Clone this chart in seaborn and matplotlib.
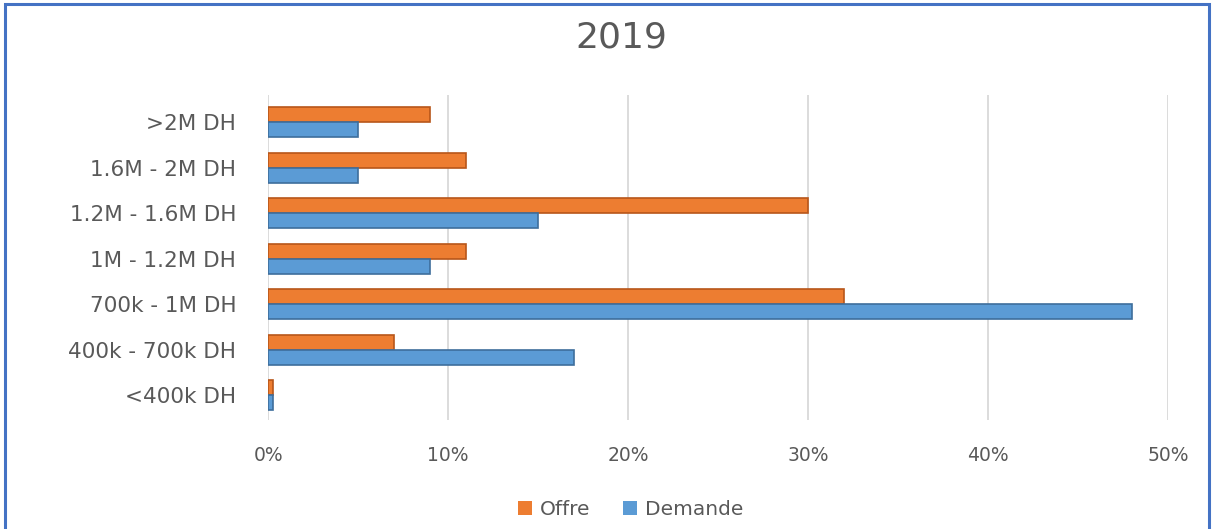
import matplotlib
matplotlib.use("Agg")
import matplotlib.pyplot as plt
import matplotlib.patches as mpatches
import seaborn as sns
import pandas as pd

# Price brackets (top to bottom) and the share of listings / requests in each
categories = [">2M DH", "1.6M - 2M DH", "1.2M - 1.6M DH", "1M - 1.2M DH",
              "700k - 1M DH", "400k - 700k DH", "<400k DH"]
offre = [9, 11, 30, 11, 32, 7, 0.3]
demande = [5, 5, 15, 9, 48, 17, 0.3]
series = ["Offre", "Demande"]
x_ticks = [0, 10, 20, 30, 40, 50]
x_tick_labels = ["0%", "10%", "20%", "30%", "40%", "50%"]

colors = {"Offre": "#ED7D31", "Demande": "#5B9BD5"}
edge_colors = {"Offre": "#B8561A", "Demande": "#3E6E9C"}
text_grey = "#595959"

df = pd.DataFrame({
    "Tranche": categories * 2,
    "Part": offre + demande,
    "Série": [series[0]] * len(categories) + [series[1]] * len(categories),
})

sns.set_theme(style="white")
plt.rcParams["font.family"] = ["DejaVu Sans"]

fig = plt.figure(figsize=(12.13, 5.29), dpi=100)
ax = fig.add_axes([0.221, 0.206, 0.742, 0.614])

sns.barplot(data=df, y="Tranche", x="Part", hue="Série", order=categories,
            hue_order=series, palette=colors, orient="h", width=0.66,
            ax=ax, legend=False, saturation=1)

# darker outline gives the bars their bevelled look
for container, name in zip(ax.containers, series):
    for bar in container:
        bar.set_edgecolor(edge_colors[name])
        bar.set_linewidth(1.2)

ax.set_xlim(0, 50)
ax.set_ylim(6.55, -0.6)
ax.set_xticks(x_ticks)
ax.set_xticklabels(x_tick_labels)
ax.xaxis.grid(True, color="#DCDCDC", linewidth=1.4)
ax.set_axisbelow(True)
for s in ax.spines.values():
    s.set_visible(False)
ax.set_xlabel("")
ax.set_ylabel("")
ax.tick_params(axis="x", length=0, pad=19, labelsize=13.5, labelcolor=text_grey)
ax.tick_params(axis="y", length=0, pad=23, labelsize=15.5, labelcolor=text_grey)

fig.text(0.512, 0.93, "2019", ha="center", va="center", fontsize=26,
         color=text_grey)

handles = [mpatches.Patch(facecolor=colors[s], edgecolor="none", label=s)
           for s in series]
fig.legend(handles=handles, loc="center", bbox_to_anchor=(0.52, 0.036),
           ncol=2, frameon=False, fontsize=14.5, handlelength=0.7,
           handleheight=0.7, handletextpad=0.4, columnspacing=1.6,
           labelcolor=text_grey)

# outer frame around the chart area
fig.patches.append(mpatches.Rectangle((0.004, -0.05), 0.993, 1.043,
                                      transform=fig.transFigure, fill=False,
                                      edgecolor="#4472C4", linewidth=2.2))

fig.savefig("out.png", dpi=100, facecolor="white")
